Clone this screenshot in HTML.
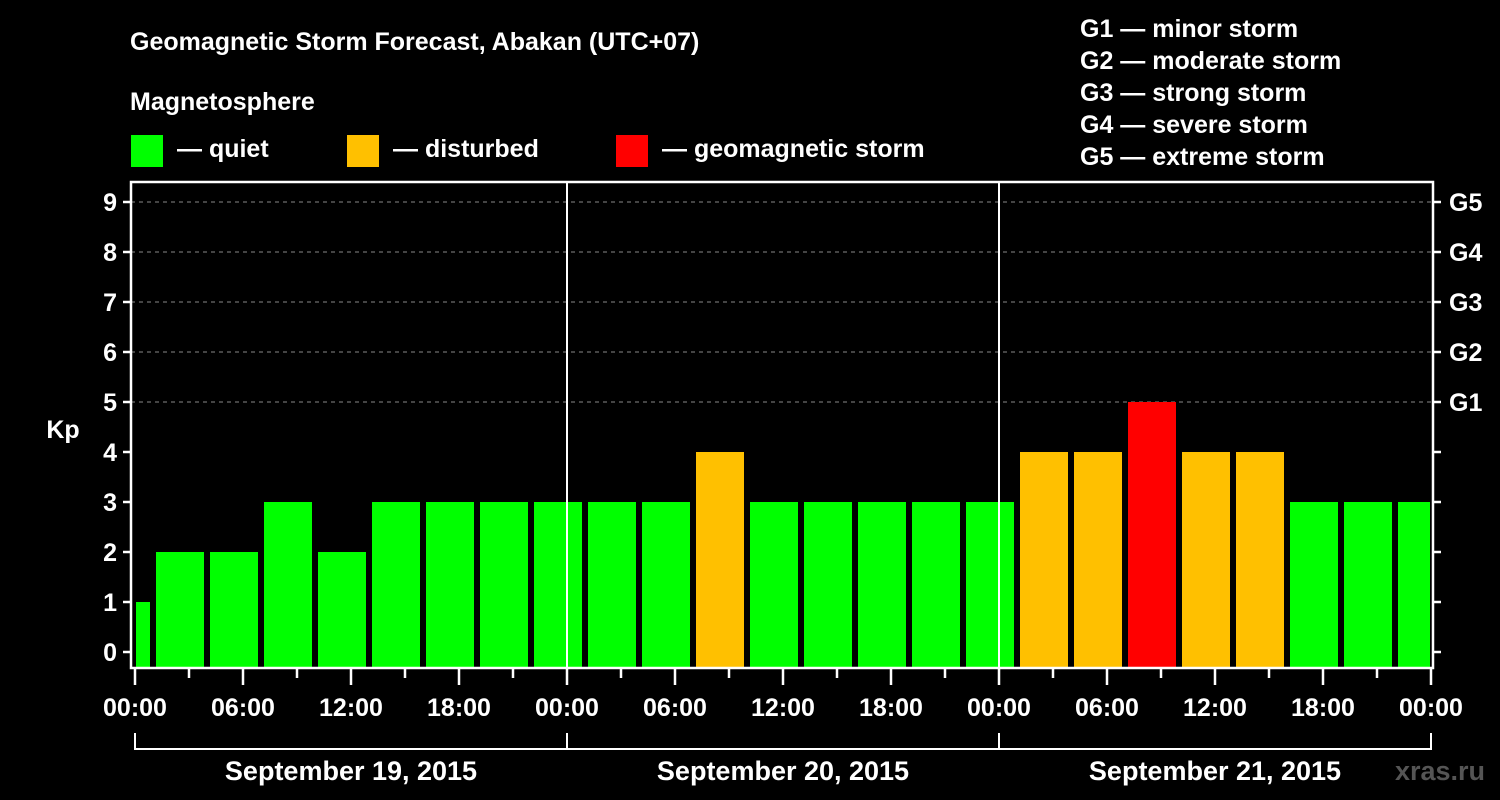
<!DOCTYPE html>
<html><head><meta charset="utf-8"><style>
body{margin:0;background:#000;}
svg{display:block;font-family:"Liberation Sans",Arial,sans-serif;font-weight:bold;}
</style></head><body>
<svg id="c" width="1500" height="800" viewBox="0 0 1500 800">
<rect width="1500" height="800" fill="#000"/>
<text x="130" y="50" fill="#fff" font-size="25">Geomagnetic Storm Forecast, Abakan (UTC+07)</text>
<text x="130" y="110" fill="#fff" font-size="25">Magnetosphere</text>
<g><rect x="131" y="135" width="32" height="32" fill="#00ff00"/><text x="177" y="157" fill="#fff" font-size="25">— quiet</text></g>
<g><rect x="347" y="135" width="32" height="32" fill="#ffc000"/><text x="393" y="157" fill="#fff" font-size="25">— disturbed</text></g>
<g><rect x="616" y="135" width="32" height="32" fill="#ff0000"/><text x="662" y="157" fill="#fff" font-size="25">— geomagnetic storm</text></g>
<g fill="#fff" font-size="25">
<text x="1080" y="37">G1 — minor storm</text>
<text x="1080" y="69">G2 — moderate storm</text>
<text x="1080" y="101">G3 — strong storm</text>
<text x="1080" y="133">G4 — severe storm</text>
<text x="1080" y="165">G5 — extreme storm</text>
</g>
<text x="63" y="438" fill="#fff" font-size="25" text-anchor="middle">Kp</text>
<g id="grid"></g><g id="bars"></g><g id="axes"></g>
<text x="1485" y="780" fill="#555" font-size="27" text-anchor="end">xras.ru</text>
</svg>
<script>
const kpValues=[1,2,2,3,2,3,3,3,3,3,3,4,3,3,3,3,3,4,4,5,4,4,3,3,3];
const yTicks=[0,1,2,3,4,5,6,7,8,9];
const gLabels=["G1","G2","G3","G4","G5"];
const hourLabels=["00:00","06:00","12:00","18:00"];
const dayLabels=["September 19, 2015","September 20, 2015","September 21, 2015"];
const NS="http://www.w3.org/2000/svg";
const X0=135,PX_H=18,Y0=652,PX_K=50,LEFT=131,RIGHT=1433,TOP=182,BOT=668;
const xs=h=>X0+h*PX_H, ys=k=>Y0-k*PX_K;
function mk(p,t,a){const e=document.createElementNS(NS,t);for(const k in a)e.setAttribute(k,a[k]);p.appendChild(e);return e;}
const grid=document.getElementById('grid'),bars=document.getElementById('bars'),axes=document.getElementById('axes');
yTicks.forEach(k=>{if(k>=5){const l=mk(grid,'line',{x1:LEFT,x2:RIGHT,y1:ys(k),y2:ys(k),stroke:'#888','stroke-dasharray':'4,4','stroke-width':1});

}});
kpValues.forEach((v,i)=>{
 let h0=-2+3*i,h1=h0+3;
 let x0=xs(h0)+3,x1=xs(h1)-3;
 x0=Math.max(x0,X0+1);x1=Math.min(x1,RIGHT-3);
 const c=v>=5?'#ff0000':(v>=4?'#ffc000':'#00ff00');
 const r=mk(bars,'rect',{x:x0,y:ys(v),width:x1-x0,height:BOT-ys(v),fill:c});
 
 
});
const W={stroke:'#fff','stroke-width':2.5,fill:'none'};
const fr=mk(axes,'rect',Object.assign({x:LEFT,y:TOP,width:RIGHT-LEFT,height:BOT-TOP},W));


for(let d=1;d<3;d++){const l=mk(axes,'line',Object.assign({x1:xs(24*d),x2:xs(24*d),y1:TOP,y2:BOT},W,{'stroke-width':2}));

}
yTicks.forEach(k=>{
 mk(axes,'line',Object.assign({x1:LEFT-8,x2:LEFT,y1:ys(k),y2:ys(k)},W));
 mk(axes,'line',Object.assign({x1:RIGHT,x2:RIGHT+8,y1:ys(k),y2:ys(k)},W));
 const t=mk(axes,'text',{x:LEFT-14,y:ys(k)+9,fill:'#fff','font-size':25,'text-anchor':'end'});t.textContent=k;
 
 
 if(k>=5){const g=mk(axes,'text',{x:1449,y:ys(k)+9,fill:'#fff','font-size':25});g.textContent=gLabels[k-5];
 
 }
});
for(let h=0;h<=72;h+=3){const long=h%6===0;
 mk(axes,'line',Object.assign({x1:xs(h),x2:xs(h),y1:BOT,y2:BOT+(long?17:10)},W));
 if(long){const t=mk(axes,'text',{x:xs(h),y:716,fill:'#fff','font-size':25,'text-anchor':'middle'});
 t.textContent=hourLabels[(h/6)%4];
 
 }
}
mk(axes,'path',Object.assign({d:`M${xs(0)} 733V749H${xs(72)}V733`},W,{'stroke-width':2}));
for(let d=0;d<3;d++){
 mk(axes,'line',Object.assign({x1:xs(24*d),x2:xs(24*d),y1:733,y2:749},W,{'stroke-width':2}));
 const t=mk(axes,'text',{x:xs(24*d+12),y:780,fill:'#fff','font-size':27,'text-anchor':'middle'});t.textContent=dayLabels[d];
 
 
}
</script>
</body></html>
